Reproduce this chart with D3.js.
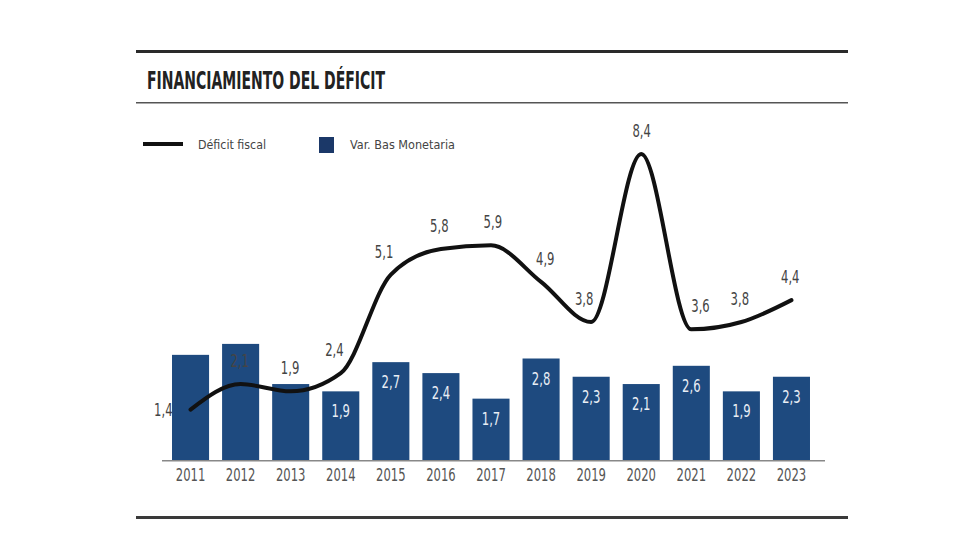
<!DOCTYPE html>
<html>
<head>
<meta charset="utf-8">
<script src="https://cdn.jsdelivr.net/npm/d3@7/dist/d3.min.js"></script>
<style>
  html, body { margin: 0; padding: 0; background: #fff; }
  svg { display: block; }
  .narrow { font-family: "Liberation Sans Narrow", "Arial Narrow", "DejaVu Sans Condensed", "Roboto", sans-serif; }
  .year-label { font-size: 17px; fill: #555; }
  .line-label { font-size: 17px; fill: #444; }
  .bar-label  { font-size: 17px; fill: #e9eef5; }
  .legend-text { font-size: 13px; fill: #444; }
</style>
</head>
<body>
<svg id="chart"></svg>
<script>
const YEARS      = ["2011", "2012", "2013", "2014", "2015", "2016", "2017", "2018", "2019", "2020", "2021", "2022", "2023"];
const BASE_MON   = [2.9, 3.2, 2.1, 1.9, 2.7, 2.4, 1.7, 2.8, 2.3, 2.1, 2.6, 1.9, 2.3];
const BAR_LABELS = [null, null, null, "1,9", "2,7", "2,4", "1,7", "2,8", "2,3", "2,1", "2,6", "1,9", "2,3"];
const DEFICIT    = [1.4, 2.1, 1.9, 2.4, 5.1, 5.8, 5.9, 4.9, 3.8, 8.4, 3.6, 3.8, 4.4];
const DEF_LABELS = ["1,4", "2,1", "1,9", "2,4", "5,1", "5,8", "5,9", "4,9", "3,8", "8,4", "3,6", "3,8", "4,4"];
const TITLE      = "FINANCIAMIENTO DEL DÉFICIT";
const LEGEND_LINE = "Déficit fiscal";
const LEGEND_BAR  = "Var. Bas Monetaria";

const W = 980, H = 551;
const BAR_COLOR = "#1e4a7f";
const BASE_Y = 460.7;
const SQUEEZE = 0.76;   // no condensed font installed, so squeeze glyphs horizontally

const svg = d3.select("#chart").attr("width", W).attr("height", H);

// rules + title
svg.append("rect").attr("x", 136).attr("y", 50).attr("width", 712).attr("height", 3).attr("fill", "#2a2a2a");
svg.append("rect").attr("x", 136).attr("y", 102).attr("width", 712).attr("height", 1.5).attr("fill", "#555");
svg.append("rect").attr("x", 136).attr("y", 516).attr("width", 712).attr("height", 3).attr("fill", "#3a3a3a");

svg.append("text")
  .attr("class", "narrow")
  .attr("x", 147).attr("y", 89)
  .attr("font-size", 24).attr("font-weight", "bold")
  .attr("fill", "#222")
  .attr("textLength", 238).attr("lengthAdjust", "spacingAndGlyphs")
  .text(TITLE);

// legend
svg.append("line")
  .attr("x1", 143).attr("x2", 183).attr("y1", 144).attr("y2", 144)
  .attr("stroke", "#111").attr("stroke-width", 4);
svg.append("text").attr("class", "narrow legend-text")
  .attr("x", 198).attr("y", 149)
  .attr("textLength", 68).attr("lengthAdjust", "spacingAndGlyphs")
  .text(LEGEND_LINE);
svg.append("rect")
  .attr("x", 319).attr("y", 137).attr("width", 15).attr("height", 16)
  .attr("fill", "#1b3868");
svg.append("text").attr("class", "narrow legend-text")
  .attr("x", 350).attr("y", 149)
  .attr("textLength", 105).attr("lengthAdjust", "spacingAndGlyphs")
  .text(LEGEND_BAR);

// scales
const x = d3.scaleBand()
  .domain(YEARS)
  .range([165.5, 816.5])
  .paddingInner(0.26)
  .paddingOuter(0.13);

const y = d3.scaleLinear()
  .domain([0, 9])
  .range([BASE_Y, BASE_Y - 9 * 36.5]);

const cx = d => x(d) + x.bandwidth() / 2;
const place = (px, py) => `translate(${px},${py}) scale(${SQUEEZE},1)`;

// bars
svg.append("g").selectAll("rect")
  .data(YEARS)
  .join("rect")
    .attr("x", d => x(d))
    .attr("y", (d, i) => y(BASE_MON[i]))
    .attr("width", x.bandwidth())
    .attr("height", (d, i) => y(0) - y(BASE_MON[i]))
    .attr("fill", BAR_COLOR);

svg.append("g").selectAll("text")
  .data(YEARS.filter((d, i) => BAR_LABELS[i]))
  .join("text")
    .attr("class", "narrow bar-label")
    .attr("text-anchor", "middle")
    .attr("transform", d => place(cx(d), y(BASE_MON[YEARS.indexOf(d)]) + 26))
    .text(d => BAR_LABELS[YEARS.indexOf(d)]);

// baseline axis
const axis = svg.append("g")
  .attr("transform", `translate(0,${BASE_Y})`)
  .call(d3.axisBottom(x).tickSize(0).tickPadding(8));
axis.select(".domain").remove();
axis.selectAll("text")
  .attr("class", "narrow year-label")
  .attr("font-size", null).attr("fill", null)
  .attr("transform", `scale(${SQUEEZE},1)`);
svg.append("line")
  .attr("x1", 162).attr("x2", 825).attr("y1", BASE_Y).attr("y2", BASE_Y)
  .attr("stroke", "#888").attr("stroke-width", 1.5);

// deficit line
const line = d3.line()
  .x((d, i) => cx(YEARS[i]))
  .y(d => y(d))
  .curve(d3.curveMonotoneX);

svg.append("path")
  .datum(DEFICIT)
  .attr("d", line)
  .attr("fill", "none")
  .attr("stroke", "#111")
  .attr("stroke-width", 4)
  .attr("stroke-linecap", "round");

// push a label sideways, away from the steeper neighbour segment
function nudge(i) {
  const prev = i > 0 ? DEFICIT[i - 1] : DEFICIT[i];
  const next = i < DEFICIT.length - 1 ? DEFICIT[i + 1] : DEFICIT[i];
  return Math.max(-13, Math.min(13, 2 * (prev - next)));
}

svg.append("g").selectAll("text")
  .data(DEFICIT)
  .join("text")
    .attr("class", "narrow line-label")
    .attr("text-anchor", (d, i) => i === 0 ? "end" : "middle")
    .attr("transform", (d, i) => i === 0
      ? place(cx(YEARS[i]) - 18, y(d) + 6)
      : place(cx(YEARS[i]) + nudge(i), y(d) - 17))
    .attr("fill", (d, i) => (y(d) - 20) > y(BASE_MON[i]) ? "#aab6c8" : null)
    .text((d, i) => DEF_LABELS[i]);
</script>
</body>
</html>
